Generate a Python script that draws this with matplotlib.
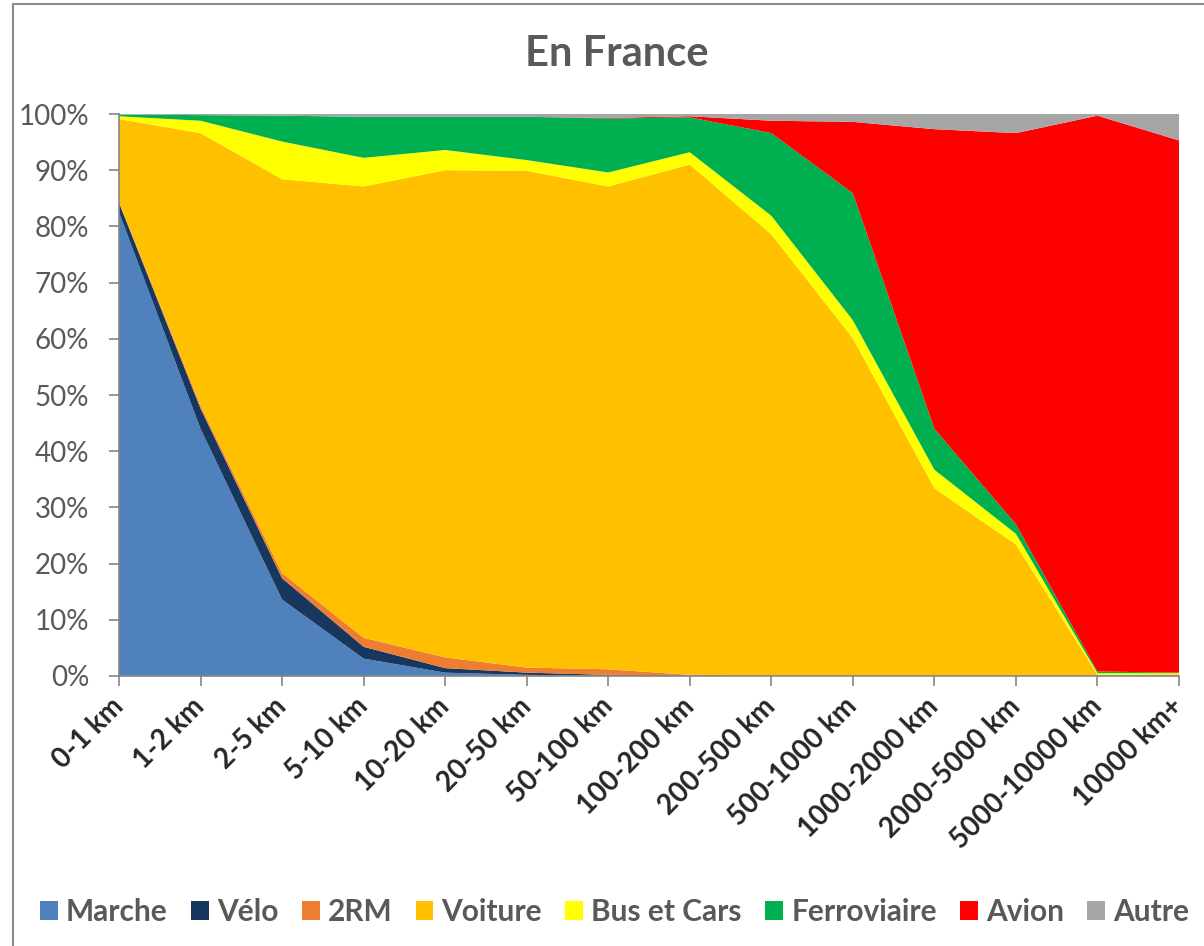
import matplotlib
matplotlib.use("Agg")
import matplotlib.pyplot as plt
from matplotlib.lines import Line2D
from matplotlib.patches import Patch
import numpy as np

# ------------------------------------------------------------------ data --
distances = ["0-1 km", "1-2 km", "2-5 km", "5-10 km", "10-20 km", "20-50 km",
             "50-100 km", "100-200 km", "200-500 km", "500-1000 km",
             "1000-2000 km", "2000-5000 km", "5000-10000 km", "10000 km+"]
modes = ["Marche", "Vélo", "2RM", "Voiture", "Bus et Cars", "Ferroviaire", "Avion", "Autre"]

marche = [82.5, 44.0, 13.6, 3.1, 0.6, 0.2, 0.1, 0.05, 0.0, 0.0, 0.0, 0.0, 0.0, 0.0]
velo = [1.7, 3.6, 3.8, 2.1, 0.8, 0.4, 0.1, 0.05, 0.0, 0.0, 0.0, 0.0, 0.0, 0.0]
deux_roues = [0.2, 0.5, 0.9, 1.6, 1.9, 0.9, 1.0, 0.1, 0.1, 0.1, 0.05, 0.05, 0.0, 0.0]
voiture = [14.7, 48.5, 70.1, 80.3, 86.7, 88.4, 85.9, 90.8, 78.5, 60.0, 33.35, 23.35, 0.2, 0.3]
bus = [0.5, 2.2, 6.7, 5.1, 3.6, 1.9, 2.5, 2.2, 3.3, 3.2, 3.3, 1.9, 0.3, 0.2]
ferroviaire = [0.3, 1.0, 4.6, 7.3, 5.9, 7.7, 9.6, 6.2, 14.7, 22.6, 7.3, 1.7, 0.3, 0.1]
avion = [0.0, 0.0, 0.0, 0.0, 0.0, 0.0, 0.1, 0.2, 2.2, 12.7, 53.3, 69.6, 98.9, 94.7]
autre = [0.1, 0.2, 0.3, 0.5, 0.5, 0.5, 0.7, 0.4, 1.2, 1.4, 2.7, 3.4, 0.3, 4.7]

colors = ["#4F81BD", "#17375E", "#ED7D31", "#FFC000", "#FFFF00", "#00B050", "#FF0000", "#A6A6A6"]

# ----------------------------------------------------------------- style --
plt.rcParams["font.family"] = ["Lato", "DejaVu Sans"]
GREY_TXT = "#595959"
AXIS_C = "#868686"
W, H = 1204, 946

fig = plt.figure(figsize=(W / 100, H / 100), dpi=100)
ax = fig.add_axes([119 / W, 1 - 676 / H, (1179 - 119) / W, (676 - 114) / H])

x = np.arange(len(distances))
series = [marche, velo, deux_roues, voiture, bus, ferroviaire, avion, autre]
ax.stackplot(x, *series, colors=colors, labels=modes, linewidth=0, antialiased=True)

ax.set_xlim(0, len(distances) - 1)
ax.set_ylim(0, 100)
ax.set_yticks(np.arange(0, 101, 10))
ax.set_yticklabels([f"{v}%" for v in range(0, 101, 10)], fontsize=20, color=GREY_TXT)
ax.set_xticks(x)
ax.set_xticklabels(distances, rotation=45, ha="right", va="center", rotation_mode="anchor",
                   fontsize=20, fontweight="bold", color="#262626")
ax.tick_params(axis="y", direction="out", length=7.5, width=1.2, color=AXIS_C, pad=14)
ax.tick_params(axis="x", direction="out", length=7, width=1.2, color=AXIS_C, pad=12)
for side in ("top", "right"):
    ax.spines[side].set_visible(False)
for side in ("left", "bottom"):
    ax.spines[side].set_color(AXIS_C)
    ax.spines[side].set_linewidth(1.2)
ax.set_facecolor("white")

fig.text(617 / W, 1 - 54 / H, "En France", ha="center", va="center",
         fontsize=30, fontweight="bold", color=GREY_TXT)

# chart frame (cropped on right/bottom like the source)
fig.add_artist(Line2D([13 / W, 13 / W], [0, 1 - 4 / H], transform=fig.transFigure,
                      color="#8c8c8c", lw=1.5))
fig.add_artist(Line2D([13 / W, 1], [1 - 4 / H, 1 - 4 / H], transform=fig.transFigure,
                      color="#8c8c8c", lw=1.5))

handles = [Patch(facecolor=c, edgecolor="none") for c in colors]
leg = fig.legend(handles, modes, loc="center left", bbox_to_anchor=(40 / W, 1 - 912 / H),
                 ncol=8, frameon=False, fontsize=21.5, handlelength=0.6, handleheight=0.6,
                 handletextpad=0.27, columnspacing=0.78, borderpad=0, borderaxespad=0)
for t in leg.get_texts():
    t.set_color(GREY_TXT)
    t.set_fontweight("bold")

fig.savefig("out.png", dpi=100)
